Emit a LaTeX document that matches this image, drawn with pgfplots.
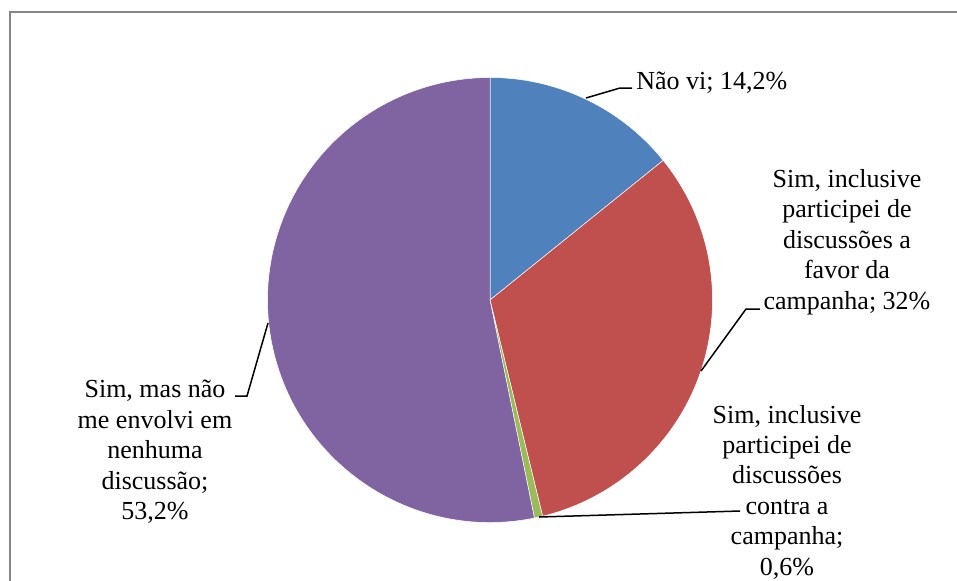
\documentclass[border=0pt]{standalone}
\usepackage{fontspec}
\setmainfont{Liberation Serif}
\usepackage{pgfplots}
\pgfplotsset{compat=1.18}

\definecolor{sBlue}{HTML}{4F81BD}
\definecolor{sRed}{HTML}{C0504D}
\definecolor{sGreen}{HTML}{9BBB59}
\definecolor{sPurple}{HTML}{8064A2}
\definecolor{frameGray}{HTML}{868686}

% shares (percent), clockwise from twelve o'clock
\def\vA{14.2}% Nao vi
\def\vB{32}%   a favor
\def\vC{0.6}%  contra
\def\vD{53.2}% sem discussao

\tikzset{lbl/.style={font=\fontsize{13pt}{15.2pt}\selectfont, inner sep=0pt, text=black}}

\begin{document}
\begin{tikzpicture}
% boundary angles of the wedges
\pgfmathsetmacro\aA{90}
\pgfmathsetmacro\aB{\aA-3.6*\vA}
\pgfmathsetmacro\aC{\aB-3.6*\vB}
\pgfmathsetmacro\aD{\aC-3.6*\vC}
\pgfmathsetmacro\aE{\aD-3.6*\vD}
\def\R{111.25pt}
\begin{axis}[
  scale only axis, width=478.5pt, height=290pt,
  xmin=0, xmax=957, ymin=0, ymax=580, y dir=reverse,
  hide axis, clip=true,
]
% chart frame
\draw[frameGray, line width=1pt] (axis cs:10,620) -- (axis cs:10,12) -- (axis cs:1000,12);

% wedges
\fill[sBlue, draw=white, line width=0.25pt] (axis cs:490,300) -- ++(\aA:\R) arc[start angle=\aA, end angle=\aB, radius=\R] -- cycle;
\fill[sRed, draw=white, line width=0.25pt] (axis cs:490,300) -- ++(\aB:\R) arc[start angle=\aB, end angle=\aC, radius=\R] -- cycle;
\fill[sGreen, draw=white, line width=0.25pt] (axis cs:490,300) -- ++(\aC:\R) arc[start angle=\aC, end angle=\aD, radius=\R] -- cycle;
\fill[sPurple, draw=white, line width=0.25pt] (axis cs:490,300) -- ++(\aD:\R) arc[start angle=\aD, end angle=\aE, radius=\R] -- cycle;

% leader lines
\draw[black, line width=0.75pt] (axis cs:586,98) -- (axis cs:620,88) -- (axis cs:632,88);
\draw[black, line width=0.75pt] (axis cs:701,371) -- (axis cs:746,309) -- (axis cs:760,309);
\draw[black, line width=0.75pt] (axis cs:539,517) -- (axis cs:740,511);
\draw[black, line width=0.75pt] (axis cs:268,323) -- (axis cs:247,396) -- (axis cs:235,396);

% labels
\node[lbl, anchor=base west] at (axis cs:636,89) {Não vi; 14,2\%};
\node[lbl, align=center] at (axis cs:847,242) {Sim, inclusive\\participei de\\discussões a\\favor da\\campanha; 32\%};
\node[lbl, align=center] at (axis cs:787,492) {Sim, inclusive\\participei de\\discussões\\contra a\\campanha;\\0,6\%};
\node[lbl, align=center] at (axis cs:155,452) {Sim, mas não\\me envolvi em\\nenhuma\\discussão;\\53,2\%};
\end{axis}
\pgfresetboundingbox
\path[use as bounding box] (0,0) rectangle (478.5pt,290pt);
\end{tikzpicture}
\end{document}
